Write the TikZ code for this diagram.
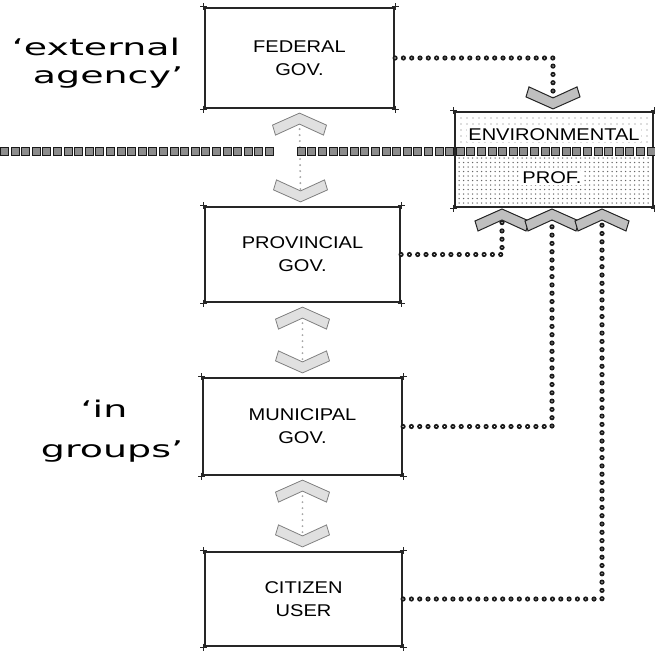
\documentclass[tikz,border=0pt]{standalone}
\usepackage{fontspec}
\setmainfont{Liberation Sans}
\newfontfamily\boxfont[FakeStretch=1.18]{Liberation Sans}
\newfontfamily\tagfont[FakeStretch=1.65]{DejaVu Sans}
\usetikzlibrary{calc}

\tikzset{
  govbox/.style={draw=black!85, line width=2.2pt, rectangle, align=center,
    font=\boxfont\fontsize{17pt}{23pt}\selectfont, inner sep=0pt},
  envlabel/.style={font=\boxfont\fontsize{17pt}{23pt}\selectfont, fill=white, inner sep=1.2pt},
  conn/.style={line width=5.2pt, line cap=round, dash pattern=on 0pt off 8.3pt, black!90},
  connhole/.style={line width=1.3pt, line cap=round, dash pattern=on 0pt off 8.3pt, white},
  govlink/.style={line width=2.2pt, line cap=round, dash pattern=on 0pt off 6pt, black!35},
  chevron/.pic={\path[pic actions] (0,0) -- (27,12) -- (24,22) -- (0,11) -- (-24,22) -- (-27,12) -- cycle;},
  govhead/.style={fill=black!12, draw=black!50, line width=0.8pt},
  envhead/.style={fill=black!25, draw=black!85, line width=1pt},
  tag/.style={font=\tagfont\fontsize{23pt}{28pt}\selectfont, anchor=base},
  bandsq/.style={fill=black!45, draw=black!90, line width=0.9pt},
  tick/.style={line width=1pt, black!85},
  sparsedot/.style={fill=black!55},
  densedot/.style={fill=black!60}
}

\begin{document}
\begin{tikzpicture}[x=1pt, y=-1pt]
\useasboundingbox (0,0) rectangle (655,654);

% hierarchy of government boxes
\node[govbox, minimum width=189pt, minimum height=100pt] (fed)  at (299.5,58)    {FEDERAL\\GOV.};
\node[govbox, minimum width=195pt, minimum height=95pt]  (prov) at (302.5,254.5) {PROVINCIAL\\GOV.};
\node[govbox, minimum width=199pt, minimum height=97pt]  (muni) at (302.5,426.5) {MUNICIPAL\\GOV.};
\node[govbox, minimum width=197pt, minimum height=94pt]  (cit)  at (303.5,599)   {CITIZEN\\USER};

% environmental professional box, screened
\node[govbox, fill=white, minimum width=198pt, minimum height=95pt] (env) at (554,159.5) {};
\foreach \x in {461,467,...,649}
  \foreach \y in {118,124,...,146}
    \fill[sparsedot] (\x,\y) circle (0.6);
\foreach \x in {459,463.5,...,650}
  \foreach \y in {158,162.5,...,204}
    \fill[densedot] (\x,\y) circle (0.75);

% chevron end points
\coordinate (ftop) at (553,101);
\coordinate (b1) at (502,218);
\coordinate (b2) at (552,218);
\coordinate (b3) at (602,218);

% dotted links to the environmental professional
\foreach \s/\t in {fed/ftop, prov/b1, muni/b2, cit/b3} {
  \draw[conn] (\s.east) -| (\t);
  \draw[connhole] (\s.east) -| (\t);
}

% two-way links between levels of government
\coordinate (u1) at ($(fed.south)+(0,4)$);
\coordinate (d1) at ($(prov.north)+(-2,-4)$);
\coordinate (u2) at ($(prov.south)+(0,4)$);
\coordinate (d2) at ($(muni.north)+(0,-4)$);
\coordinate (u3) at ($(muni.south)+(0,4)$);
\coordinate (d3) at ($(cit.north)+(-1,-4)$);
\foreach \u/\d in {u1/d1, u2/d2, u3/d3} {
  \draw[govlink] ($(\u)+(0,10)$) -- ($(\d)+(0,-10)$);
  \pic[govhead] at (\u) {chevron};
  \pic[govhead, yscale=-1] at (\d) {chevron};
}

% row of squares across the page
\foreach \i in {0,...,25,28,29,...,61}
  \path[bandsq] ({4.5+10.6*\i-4},147) rectangle ++(8,8);

% arrow heads at the environmental box
\pic[envhead, yscale=-1] at ($(env.north)+(-1,-2)$) {chevron};
\foreach \c in {b1,b2,b3}
  \pic[envhead] at ($(\c)+(0,-9)$) {chevron};

% labels of the environmental box
\node[envlabel] (envtop) at (554,135) {ENVIRONMENTAL};
\node[envlabel] (envbot) at (552,178) {PROF.};

% corner marks of the boxes
\foreach \b in {fed,prov,muni,cit,env}
  \foreach \c in {north west,north east,south west,south east} {
    \draw[tick] ($(\b.\c)+(-3.5,0)$) -- ++(7,0);
    \draw[tick] ($(\b.\c)+(0,-3.5)$) -- ++(0,7);
  }

% side captions
\node[tag] (ext)  at (96,55)   {‘external};
\node[tag] (agen) at (108,83)  {agency’};
\node[tag] (inn)  at (104,417) {‘in};
\node[tag] (grp)  at (112,457) {groups’};
\end{tikzpicture}
\end{document}
